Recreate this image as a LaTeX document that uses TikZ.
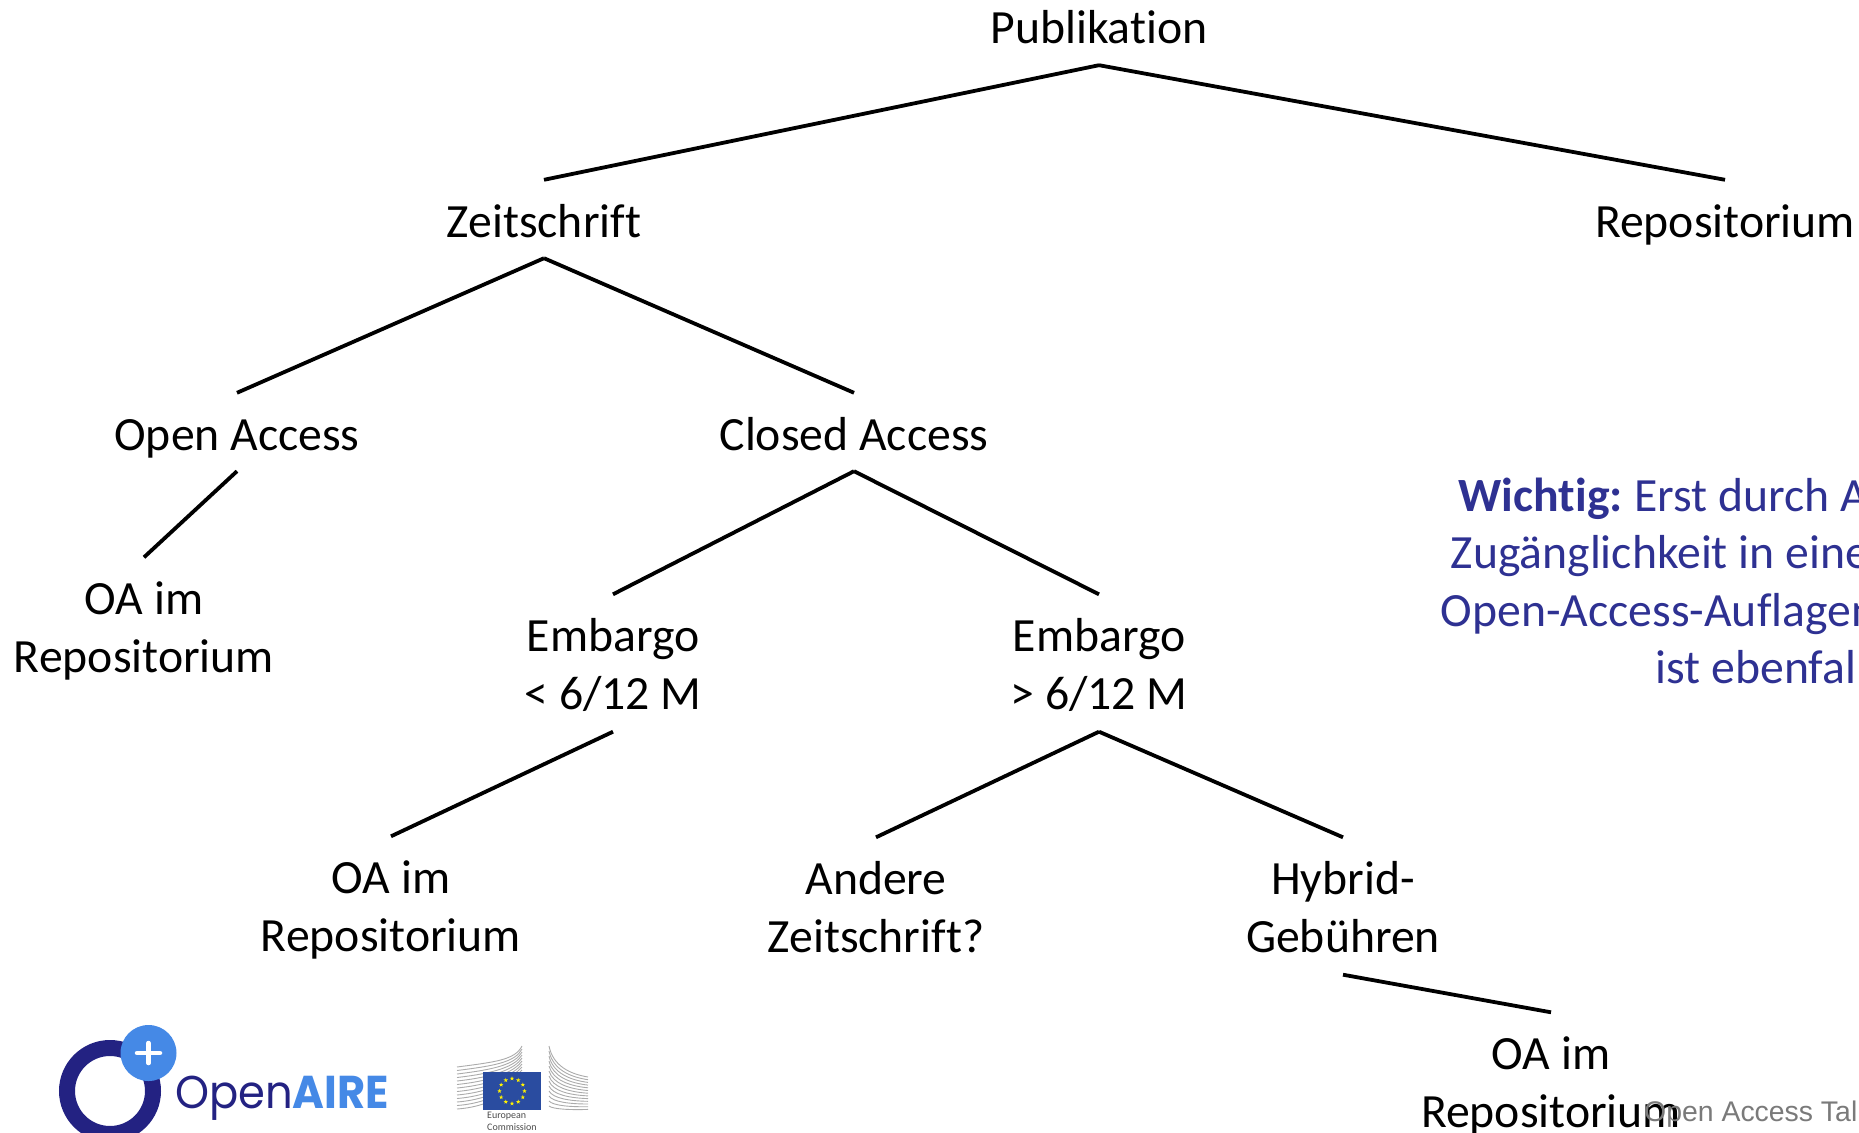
\documentclass[tikz,border=0pt]{standalone}
\usepackage{fontspec}
\setmainfont{Carlito}[Ligatures=CommonOff]
\newfontfamily\footfont{Liberation Sans}
\newfontfamily\logofont{Poppins}
\usetikzlibrary{shapes,arrows,calc}
\definecolor{noteblue}{HTML}{2E3192}
\definecolor{ringblue}{HTML}{232282}
\definecolor{plusblue}{HTML}{4589E6}
\definecolor{flagblue}{HTML}{2A4CA0}
\newcommand{\toprow}{\rule{0pt}{45pt}}
\tikzset{
  leaf/.style={inner sep=0pt,align=center,minimum height=78pt,
    font=\fontsize{47.7}{57.5}\selectfont,
    execute at begin node=\rule{0pt}{46pt},execute at end node=\rule[-10pt]{0pt}{10pt}},
  twoline/.style={leaf,minimum height=137pt},
  branch/.style={line width=3.8pt,black},
  stripe/.style={line width=.9pt,black!33},
}
\begin{document}
\begin{tikzpicture}[x=1pt,y=-1pt]
      \useasboundingbox (0,0) rectangle (1859,1132);
      \node[leaf] (pub) at (1099,26) {Publikation};
      \node[leaf,below of=pub,node distance=193pt,xshift=-555pt] (zeit) {Zeitschrift};
      \node[leaf,below of=pub,node distance=193pt,xshift=626pt] (repo) {Repositorium};
      \node[leaf,below of=zeit,node distance=213pt,xshift=-307pt] (open) {Open Access};
      \node[leaf,below of=zeit,node distance=213pt,xshift=310pt] (closed) {Closed Access};
      \node[twoline,below of=open,node distance=194pt,xshift=-93pt] (oaone) {\toprow OA im\\Repositorium};
      \node[twoline,below of=closed,node distance=231pt,xshift=-241pt] (emblow) {\toprow Embargo\\< 6/12 M};
      \node[twoline,below of=closed,node distance=231pt,xshift=245pt] (embhigh) {\toprow Embargo\\> 6/12 M};
      \node[twoline,below of=emblow,node distance=242pt,xshift=-222pt] (oatwo) {\toprow OA im\\Repositorium};
      \node[twoline,below of=embhigh,node distance=243pt,xshift=-223pt] (other) {\toprow Andere\\Zeitschrift?};
      \node[twoline,below of=embhigh,node distance=243pt,xshift=244pt] (hybrid) {\toprow Hybrid-\\Gebühren};
      \node[twoline,below of=hybrid,node distance=175pt,xshift=208pt] (oathree) {\toprow OA im\\Repositorium};

      \path (pub.south) edge[branch] (zeit.north);
      \path (pub.south) edge[branch] (repo.north);
      \path (zeit.south) edge[branch] (open.north);
      \path (zeit.south) edge[branch] (closed.north);
      \path (open.south) edge[branch] (oaone.north);
      \path (closed.south) edge[branch] (emblow.north);
      \path (closed.south) edge[branch] (embhigh.north);
      \path (emblow.south) edge[branch] (oatwo.north);
      \path (embhigh.south) edge[branch] (other.north);
      \path (embhigh.south) edge[branch] (hybrid.north);
      \path (hybrid.south) edge[branch] (oathree.north);

      \node[anchor=west,inner sep=0pt,align=left,text=noteblue,
        font=\fontsize{47.7}{57.3}\selectfont] (note) at (1440.5,581)
        {\hspace*{18pt}\textbf{Wichtig:}\kern-3pt{} Erst durch A\\\hspace*{10pt}Zugänglichkeit in eine\\Open-Access-Auflagen\\\hspace*{215pt}ist ebenfal};
      \node[anchor=base west,inner sep=0pt,text=black!52,
        font=\footfont\fontsize{28.4}{30}\selectfont] (foot) at (1644,1121) {Open Access Tal};

      % OpenAIRE
      \draw[ringblue,line width=16pt] (110,1091) circle (43);
      \fill[plusblue] (148.5,1053) circle (28);
      \draw[white,line width=4.5pt,line cap=round] (137,1053) -- (160,1053) (148.5,1043) -- (148.5,1063);
      \node[anchor=base west,inner sep=0pt,xscale=.94,font=\logofont\fontsize{46}{50}\selectfont] (logo) at (175,1108)
        {\textcolor{ringblue}{Open}\textcolor{plusblue}{\textbf{AIRE}}};

      % European Commission
      \foreach \k in {0,...,12} {
        \draw[stripe] (457,1067+\k*3.5) .. controls (495,1062+\k*3.7) and (515,1060+\k*2.2) .. (522,1046+\k*3);
        \draw[stripe] (549,1046+\k*5) .. controls (553,1066+\k*3.6) and (570,1074+\k*3) .. (588,1077+\k*2.7);
      }
      \fill[flagblue] (483,1072) rectangle (541,1110);
      \foreach \a in {0,30,...,330}
        \node[star,star points=5,star point ratio=2.4,fill=yellow,inner sep=0pt,minimum size=4.5pt] (s\a) at ($(512,1091)+(\a:12.5)$) {};
      \node[anchor=north west,inner sep=0pt,align=left,text=black!70,
        font=\fontsize{10}{11.5}\selectfont] (ec) at (487,1112) {European\\Commission};
\end{tikzpicture}
\end{document}
